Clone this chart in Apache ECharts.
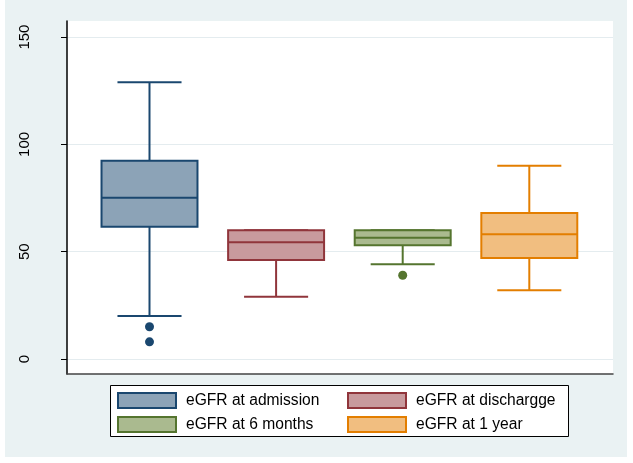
<!DOCTYPE html>
<html>
<head>
<meta charset="utf-8">
<script src="https://cdn.jsdelivr.net/npm/echarts@6/dist/echarts.min.js"></script>
<style>html,body{margin:0;padding:0;background:#fff}#c{width:633px;height:463px}</style>
</head>
<body>
<div id="c"></div>
<script>
// ---- data ----
var categories = ['eGFR at admission', 'eGFR at dischargge', 'eGFR at 6 months', 'eGFR at 1 year'];
// [lower adjacent, Q1, median, Q3, upper adjacent]
var admission = [20, 61.6, 75.1, 92.4, 129];
var discharge = [29, 46.1, 54.4, 60, 60];
var sixMonths = [44.1, 53, 56.5, 60, 60];
var oneYear = [32, 47, 58.1, 68, 90];
var boxStats = [admission, discharge, sixMonths, oneYear];
var outliers = [[0, 15], [0, 8], [2, 39]];
var yTicks = [0, 50, 100, 150];

var lineColors = ['#1a476f', '#90353b', '#55752f', '#e37e00'];
var fillColors = ['#8ca3b7', '#c89a9d', '#aaba8f', '#f1be80'];
var FONT = '"Liberation Sans", Arial, sans-serif';

var chart = echarts.init(document.getElementById('c'));

function renderBox(params, api) {
  var i = api.value(0);
  var band = api.size([1, 0])[0];
  var bw = band * 0.758, cw = band * 0.506;
  var cx = api.coord([i, 0])[0];
  var yLo = api.coord([i, api.value(1)])[1];
  var yQ1 = api.coord([i, api.value(2)])[1];
  var yMed = api.coord([i, api.value(3)])[1];
  var yQ3 = api.coord([i, api.value(4)])[1];
  var yHi = api.coord([i, api.value(5)])[1];
  var col = lineColors[params.seriesIndex - 1];
  var fill = fillColors[params.seriesIndex - 1];
  var ls = {stroke: col, lineWidth: 2, fill: null};
  var kids = [];
  kids.push({type: 'line', shape: {x1: cx, y1: yQ3, x2: cx, y2: yHi}, style: ls});
  kids.push({type: 'line', shape: {x1: cx, y1: yQ1, x2: cx, y2: yLo}, style: ls});
  kids.push({type: 'line', shape: {x1: cx - cw / 2, y1: yHi, x2: cx + cw / 2, y2: yHi}, style: ls});
  kids.push({type: 'line', shape: {x1: cx - cw / 2, y1: yLo, x2: cx + cw / 2, y2: yLo}, style: ls});
  kids.push({type: 'rect', shape: {x: cx - bw / 2, y: yQ3, width: bw, height: yQ1 - yQ3},
             style: {fill: fill, stroke: col, lineWidth: 2}});
  kids.push({type: 'line', shape: {x1: cx - bw / 2, y1: yMed, x2: cx + bw / 2, y2: yMed}, style: ls});
  return {type: 'group', children: kids};
}

var series = [{
  type: 'line', xAxisIndex: 0, yAxisIndex: 0, data: [], silent: true, z: 0,
  markLine: {
    silent: true, symbol: 'none', label: {show: false}, z: 0,
    lineStyle: {color: '#e4ecef', width: 1, type: 'solid'},
    data: yTicks.map(function (v) { return {yAxis: v}; })
  }
}];
categories.forEach(function (name, k) {
  var st = boxStats[k];
  series.push({
    type: 'custom', name: name, xAxisIndex: 1, yAxisIndex: 1, z: 5,
    renderItem: renderBox,
    itemStyle: {color: fillColors[k], borderColor: lineColors[k]},
    encode: {x: 0, y: [1, 2, 3, 4, 5]},
    data: [[k, st[0], st[1], st[2], st[3], st[4]]]
  });
});
series.push({
  type: 'scatter', name: 'outliers', xAxisIndex: 1, yAxisIndex: 1, symbolSize: 9, z: 6,
  data: outliers.map(function (p) { return {value: p, itemStyle: {color: lineColors[p[0]], opacity: 1}}; })
});

function legendItems(idx) {
  return idx.map(function (k) {
    return {name: categories[k], icon: 'rect',
            itemStyle: {color: fillColors[k], borderColor: lineColors[k], borderWidth: 2}};
  });
}
var legendCommon = {
  orient: 'vertical', itemWidth: 58, itemHeight: 15, itemGap: 7, selectedMode: false, padding: 0,
  textStyle: {fontFamily: FONT, fontSize: 15.6, color: '#000', padding: [0, 0, 0, 5]}
};

chart.setOption({
  backgroundColor: '#eaf2f3',
  animation: false,
  grid: [
    {left: 67, right: 20, top: 21, bottom: 89, show: true, backgroundColor: '#fff', borderWidth: 0},
    {left: 86.2, width: 506.4, top: 21, bottom: 89}
  ],
  xAxis: [
    {type: 'category', gridIndex: 0, data: ['x'], axisTick: {show: false}, axisLabel: {show: false},
     splitLine: {show: false}, axisLine: {onZero: false, lineStyle: {color: '#444', width: 1.5}}},
    {type: 'category', gridIndex: 1, data: categories, show: false}
  ],
  yAxis: [
    {type: 'value', gridIndex: 0, min: -7, max: 157.5, splitLine: {show: false},
     axisLine: {show: true, lineStyle: {color: '#000', width: 1.5}},
     axisTick: {show: true, length: 6, customValues: yTicks, lineStyle: {color: '#000', width: 1}},
     axisLabel: {customValues: yTicks, rotate: 90, margin: 35, fontFamily: FONT, fontSize: 15, color: '#000'}},
    {type: 'value', gridIndex: 1, min: -7, max: 157.5, show: false, splitLine: {show: false}}
  ],
  legend: [
    Object.assign({left: 117, top: 392, data: legendItems([0, 2])}, legendCommon),
    Object.assign({left: 347, top: 392, data: legendItems([1, 3])}, legendCommon)
  ],
  graphic: [
    {type: 'rect', left: 0, top: 0, shape: {width: 5, height: 463}, style: {fill: '#fff'}},
    {type: 'rect', left: 627, top: 0, shape: {width: 6, height: 463}, style: {fill: '#fff'}},
    {type: 'rect', left: 0, top: 457, shape: {width: 633, height: 6}, style: {fill: '#fff'}},
    {type: 'rect', z: 1, shape: {x: 110.5, y: 385.5, width: 458, height: 51}, style: {fill: '#fff', stroke: '#000', lineWidth: 1}}
  ],
  series: series
});
</script>
</body>
</html>
